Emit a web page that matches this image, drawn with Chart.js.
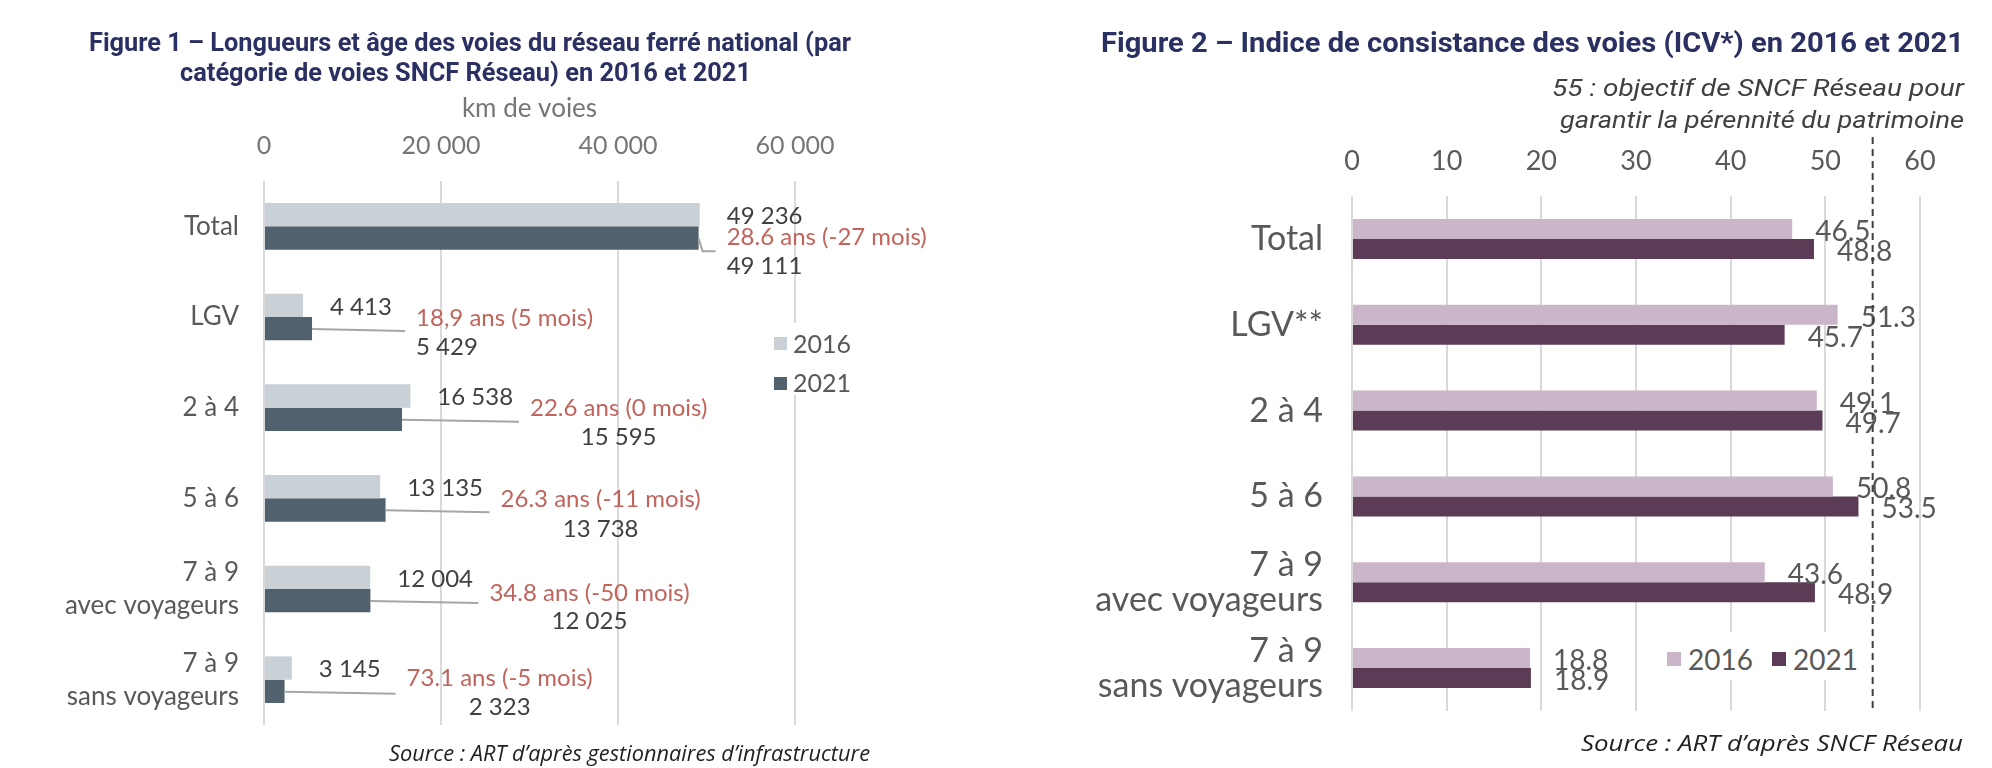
<!DOCTYPE html>
<html lang="fr">
<head>
<meta charset="utf-8">
<script src="https://cdn.jsdelivr.net/npm/chart.js@4.4.1/dist/chart.umd.min.js"></script>
<style>
  body { margin: 0; background: #fff; width: 1992px; height: 768px; position: relative; overflow: hidden; font-family: Lato, sans-serif; }
  canvas { position: absolute; top: 0; }
  .t { position: absolute; white-space: nowrap; transform-origin: left center; line-height: 1; }
  .title { font-family: Roboto, sans-serif; font-weight: 700; color: #2b3063; }
  .note { font-family: Roboto, sans-serif; font-style: italic; color: #404040; font-size: 24px; }
  .src { font-family: "Open Sans", sans-serif; font-style: italic; color: #222; font-size: 21px; }
  .leg { position: absolute; background: #fff; }
  .sq { position: absolute; }
  .lt { position: absolute; color: #595959; line-height: 1; }
</style>
</head>
<body>
<canvas id="c1" width="996" height="768" style="left:0"></canvas>
<canvas id="c2" width="996" height="768" style="left:996px"></canvas>

<div class="t title" style="font-size:26px" data-x="89" data-y="42" data-w="762">Figure 1 – Longueurs et âge des voies du réseau ferré national (par</div>
<div class="t title" style="font-size:26px" data-x="180" data-y="72" data-w="571">catégorie de voies SNCF Réseau) en 2016 et 2021</div>
<div class="t title" style="font-size:28px" data-x="1101" data-y="43" data-w="863">Figure 2 – Indice de consistance des voies (ICV*) en 2016 et 2021</div>
<div class="t note" data-x="1552" data-y="88" data-w="412">55 : objectif de SNCF Réseau pour</div>
<div class="t note" data-x="1560" data-y="120" data-w="404">garantir la pérennité du patrimoine</div>
<div class="t src" data-x="389" data-y="753" data-w="481">Source : ART d’après gestionnaires d’infrastructure</div>
<div class="t src" data-x="1581" data-y="743" data-w="382">Source : ART d’après SNCF Réseau</div>

<!-- legends -->
<div class="leg" style="left:768px;top:323px;width:88px;height:72px">
  <div class="sq" style="left:6px;top:14px;width:13px;height:13px;background:#c9d1d7"></div>
  <div class="lt" style="left:25px;top:8px;font-size:25px">2016</div>
  <div class="sq" style="left:6px;top:54px;width:13px;height:13px;background:#51616e"></div>
  <div class="lt" style="left:25px;top:47px;font-size:25px">2021</div>
</div>
<div class="leg" style="left:1660px;top:632px;width:202px;height:48px">
  <div class="sq" style="left:7px;top:20px;width:14px;height:14px;background:#cbb5c9"></div>
  <div class="lt" style="left:28px;top:13px;font-size:28px">2016</div>
  <div class="sq" style="left:112px;top:20px;width:14px;height:14px;background:#5b3b55"></div>
  <div class="lt" style="left:133px;top:13px;font-size:28px">2021</div>
</div>

<script>
// Figure 1 : longueurs (km de voies) et âge moyen
const categories = ['Total', 'LGV', '2 à 4', '5 à 6', ['7 à 9', 'avec voyageurs'], ['7 à 9', 'sans voyageurs']];
const km2016 = [49236, 4413, 16538, 13135, 12004, 3145];
const km2021 = [49111, 5429, 15595, 13738, 12025, 2323];
const ageLabels = ['28.6 ans (-27 mois)', '18,9 ans (5 mois)', '22.6 ans (0 mois)', '26.3 ans (-11 mois)', '34.8 ans (-50 mois)', '73.1 ans (-5 mois)'];
const kmTicks = [0, 20000, 40000, 60000];

// Figure 2 : ICV
const icvCategories = ['Total', 'LGV**', '2 à 4', '5 à 6', ['7 à 9', 'avec voyageurs'], ['7 à 9', 'sans voyageurs']];
const icv2016 = [46.5, 51.3, 49.1, 50.8, 43.6, 18.8];
const icv2021 = [48.8, 45.7, 49.7, 53.5, 48.9, 18.9];
const icvTicks = [0, 10, 20, 30, 40, 50, 60];
const icvObjectif = 55;

// placement des étiquettes de la figure 1 (comme dans l'original, déplacées à la main)
const leftLayout = [
  { lead: 17, hook: true, redDy: 11, v21Dy: 40, center: false },
  { lead: 93, redDy: 1, v21Dy: 30, center: false },
  { lead: 117, redDy: 1, v21Dy: 30, center: true },
  { lead: 104, redDy: 1, v21Dy: 31, center: true },
  { lead: 108, redDy: 4, v21Dy: 32, center: true },
  { lead: 111, redDy: -1, v21Dy: 28, center: true }
];

function fmt(v) {
  return String(v).replace(/\B(?=(\d{3})+(?!\d))/g, ' ');
}

const leftLabels = {
  id: 'leftLabels',
  afterDatasetsDraw(chart) {
    const ctx = chart.ctx;
    const m16 = chart.getDatasetMeta(0).data;
    const m21 = chart.getDatasetMeta(1).data;
    const yScale = chart.scales.y;
    ctx.save();
    ctx.font = '24px Lato';
    ctx.textBaseline = 'middle';
    km2016.forEach((v, i) => {
      const c = yScale.getPixelForValue(i);
      const L = leftLayout[i];
      const x16 = m16[i].x, x21 = m21[i].x;
      ctx.strokeStyle = '#a6a6a6';
      ctx.lineWidth = 2;
      ctx.beginPath();
      ctx.moveTo(x21, c + 12);
      if (L.hook) {
        ctx.lineTo(x21 + 4, c + 25);
        ctx.lineTo(x21 + L.lead, c + 25);
      } else {
        ctx.lineTo(x21 + L.lead, c + 14);
      }
      ctx.stroke();

      ctx.textAlign = 'left';
      ctx.fillStyle = '#404040';
      ctx.fillText(fmt(v), x16 + 27, c - 10);

      const rx = x21 + L.lead + 11;
      ctx.fillStyle = '#c0645c';
      ctx.fillText(ageLabels[i], rx, c + L.redDy);
      const w = ctx.measureText(ageLabels[i]).width;

      ctx.fillStyle = '#404040';
      if (L.center) {
        ctx.textAlign = 'center';
        ctx.fillText(fmt(km2021[i]), rx + w / 2, c + L.v21Dy);
      } else {
        ctx.fillText(fmt(km2021[i]), rx, c + L.v21Dy);
      }
    });
    ctx.restore();
  }
};

const rightLabels = {
  id: 'rightLabels',
  afterDatasetsDraw(chart) {
    const ctx = chart.ctx;
    ctx.save();
    ctx.font = '28px Lato';
    ctx.textBaseline = 'middle';
    ctx.textAlign = 'left';
    ctx.fillStyle = '#595959';
    [icv2016, icv2021].forEach((arr, d) => {
      const meta = chart.getDatasetMeta(d).data;
      arr.forEach((v, i) => {
        ctx.fillText(v.toFixed(1), meta[i].x + 23, meta[i].y + 3);
      });
    });
    ctx.restore();
  }
};

const objectifLine = {
  id: 'objectifLine',
  afterDraw(chart) {
    const ctx = chart.ctx;
    const x = chart.scales.x.getPixelForValue(icvObjectif);
    ctx.save();
    ctx.strokeStyle = '#404040';
    ctx.lineWidth = 2;
    ctx.setLineDash([7, 5]);
    ctx.beginPath();
    ctx.moveTo(x, 137);
    ctx.lineTo(x, chart.chartArea.bottom);
    ctx.stroke();
    ctx.restore();
  }
};

function barChart(id, opts) {
  return new Chart(document.getElementById(id), {
    type: 'bar',
    data: {
      labels: opts.labels,
      datasets: [
        { label: '2016', data: opts.a, backgroundColor: opts.colors[0], categoryPercentage: opts.catPct, barPercentage: 1 },
        { label: '2021', data: opts.b, backgroundColor: opts.colors[1], categoryPercentage: opts.catPct, barPercentage: 1 }
      ]
    },
    options: {
      indexAxis: 'y',
      responsive: false,
      animation: false,
      devicePixelRatio: 1,
      layout: { padding: opts.padding },
      plugins: { legend: { display: false }, tooltip: { enabled: false } },
      scales: {
        x: {
          position: 'top',
          min: 0,
          max: opts.max,
          afterBuildTicks: s => { s.ticks = opts.ticks.map(v => ({ value: v })); },
          afterFit: s => { s.height = opts.axisH; },
          grid: { color: '#d9d9d9', lineWidth: 2, drawTicks: false },
          border: { display: false },
          ticks: { padding: opts.tickPad, color: opts.tickColor, font: { family: 'Lato', size: opts.tickSize }, callback: v => fmt(v) },
          title: opts.title
        },
        y: {
          afterFit: s => { s.width = opts.axisW; },
          grid: { display: false, drawTicks: false },
          border: { display: false },
          ticks: { padding: opts.catPad, color: '#595959', font: { family: 'Lato', size: opts.catSize, lineHeight: opts.catLH } }
        }
      }
    },
    plugins: opts.plugins
  });
}

function draw() {
  barChart('c1', {
    labels: categories, a: km2016, b: km2021, colors: ['#c9d1d7', '#51616e'],
    catPct: 0.514, max: 60000, ticks: kmTicks,
    padding: { left: 0, top: 0, right: 201, bottom: 43 },
    axisH: 181, axisW: 264, tickPad: 20, tickSize: 25, tickColor: '#767676',
    catPad: 25, catSize: 26, catLH: 1.27,
    title: { display: true, text: 'km de voies', color: '#767676', font: { family: 'Lato', size: 26 }, padding: { top: 93, bottom: 0 } },
    plugins: [leftLabels]
  });

  barChart('c2', {
    labels: icvCategories, a: icv2016, b: icv2021, colors: ['#cbb5c9', '#5b3b55'],
    catPct: 0.466, max: 60, ticks: icvTicks,
    padding: { left: 0, top: 0, right: 72, bottom: 57 },
    axisH: 196, axisW: 356, tickPad: 19, tickSize: 27, tickColor: '#595959',
    catPad: 29, catSize: 34, catLH: 1.03,
    title: { display: false },
    plugins: [rightLabels, objectifLine]
  });

  document.querySelectorAll('.t').forEach(el => {
    const r = el.getBoundingClientRect();
    el.style.transform = 'scaleX(' + (+el.dataset.w / r.width) + ')';
    el.style.left = el.dataset.x + 'px';
    el.style.top = (+el.dataset.y - r.height / 2) + 'px';
  });
}

document.fonts.ready.then(draw);
</script>
</body>
</html>
